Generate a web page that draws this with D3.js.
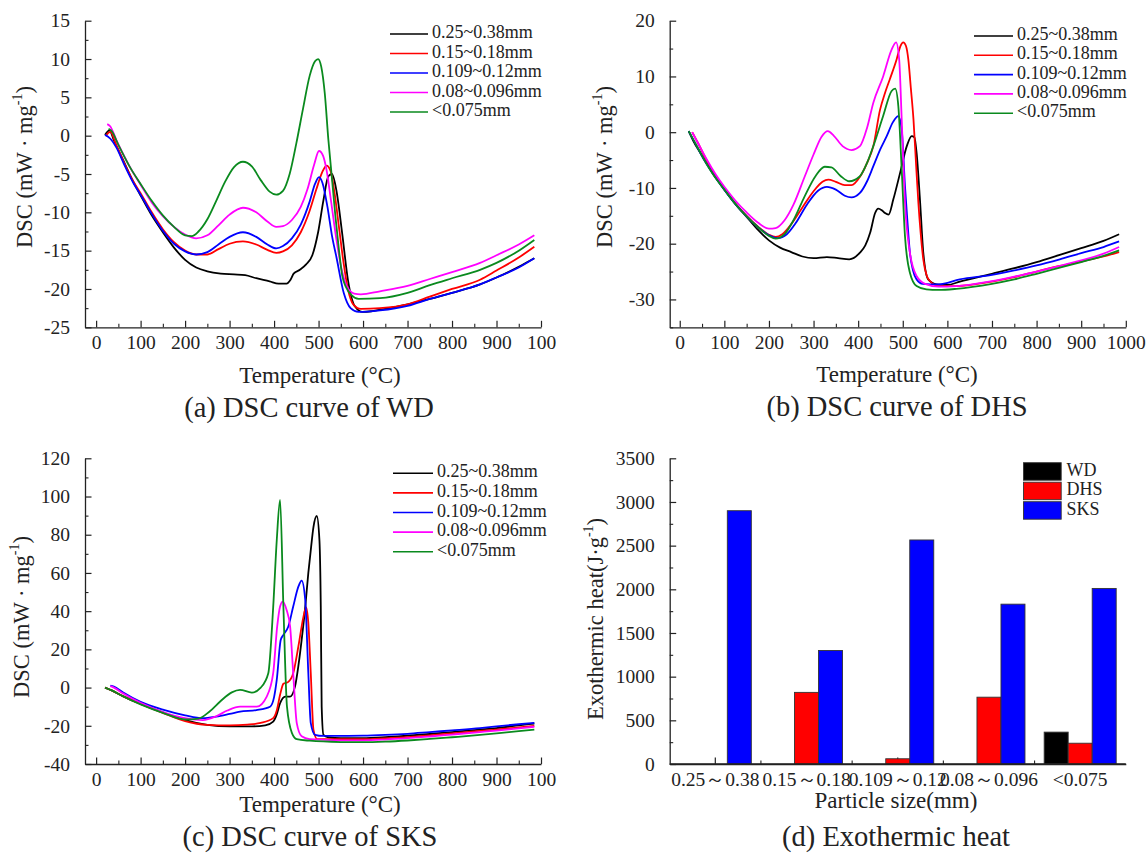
<!DOCTYPE html>
<html><head><meta charset="utf-8">
<script src="https://cdn.jsdelivr.net/npm/d3@7"></script>
<style>
body{margin:0;background:#fff}
svg{display:block}
text{font-family:"Liberation Serif","Times New Roman",serif;fill:#222}
</style>
</head><body><svg id="c" width="1146" height="853" font-family="Liberation Serif, Times New Roman, serif"></svg>
<script>
// ---------- DATA ----------
const seriesNames = ["0.25~0.38mm","0.15~0.18mm","0.109~0.12mm","0.08~0.096mm","<0.075mm"];
const xTicksT = [0,100,200,300,400,500,600,700,800,900,1000];
const xTickLabelsAC = ["0","100","200","300","400","500","600","700","800","900","100"];
const xTickLabelsB = ["0","100","200","300","400","500","600","700","800","900","1000"];
const yTicksA = [-25,-20,-15,-10,-5,0,5,10,15];
const yTicksB = [-30,-20,-10,0,10,20];
const yTicksC = [-40,-20,0,20,40,60,80,100,120];
const yTicksD = [0,500,1000,1500,2000,2500,3000,3500];

// (a) WD  [temperature °C, DSC mW/mg]
const wd1 = [[20,0.1],[30,0.7],[40,-0.6],[60,-3.1],[80,-5.6],[100,-7.8],[125,-10.4],[150,-12.6],[175,-14.6],[200,-16.2],[225,-17.2],[250,-17.7],[280,-18],[310,-18.1],[335,-18.2],[360,-18.6],[390,-19.0],[410,-19.3],[428,-19.3],[437,-18.8],[444,-18],[458,-17.5],[472,-16.8],[486,-15.6],[499,-12.6],[511,-8.4],[522,-5.3],[530,-5],[540,-7.1],[553,-12.7],[566,-18.8],[582,-22.3],[599,-23],[620,-22.9],[650,-22.6],[700,-22.0],[750,-21.3],[800,-20.5],[863,-19.4],[900,-18.5],[950,-17.1],[985,-16.0]];
const wd2 = [[22,0],[32,0.5],[45,-1.2],[65,-3.8],[85,-6.1],[100,-7.5],[125,-10],[150,-12.2],[175,-13.9],[200,-15],[225,-15.5],[250,-15.5],[275,-14.8],[300,-14.1],[330,-13.8],[360,-14.2],[385,-14.9],[405,-15.3],[420,-15.1],[440,-14.3],[460,-12.6],[480,-9.8],[495,-7],[508,-4.8],[518,-3.9],[527,-4.6],[536,-7.5],[546,-12],[556,-16.5],[566,-20],[578,-22],[595,-22.6],[638,-22.5],[700,-22],[750,-21],[800,-20],[863,-18.8],[900,-17.6],[950,-15.9],[985,-14.5]];
const wd3 = [[20,0.1],[32,-0.4],[45,-1.5],[65,-4],[85,-6.3],[100,-7.7],[125,-10.2],[150,-12.4],[175,-14.1],[200,-15.1],[225,-15.5],[250,-15.2],[275,-14.2],[300,-13.2],[330,-12.6],[360,-13.2],[385,-14.2],[405,-14.7],[420,-14.4],[440,-13.4],[460,-11.6],[480,-8.6],[492,-6.3],[501,-5.4],[509,-6.2],[520,-9.3],[530,-13],[540,-15.8],[557,-20.6],[572,-22.5],[590,-23],[638,-22.8],[700,-22.2],[750,-21.3],[800,-20.5],[863,-19.4],[900,-18.5],[950,-17.2],[985,-16.0]];
const wd4 = [[25,1.5],[32,1.2],[45,-0.5],[60,-2.3],[80,-4.5],[100,-6.4],[125,-8.7],[150,-10.5],[175,-11.9],[200,-12.9],[225,-13.4],[250,-13],[275,-11.7],[300,-10.3],[330,-9.4],[360,-10],[385,-11.2],[405,-11.9],[420,-11.8],[440,-11],[460,-9.3],[475,-7],[490,-3.8],[501,-2],[510,-2.6],[518,-4.5],[528,-8.5],[540,-13.5],[552,-17.5],[565,-19.8],[580,-20.6],[595,-20.7],[638,-20.3],[700,-19.6],[750,-18.7],[800,-17.8],[863,-16.6],[900,-15.6],[950,-14.2],[985,-13.0]];
const wd5 = [[28,0.9],[35,0.6],[50,-1.2],[75,-4],[100,-6.3],[125,-8.5],[150,-10.4],[175,-11.9],[200,-13],[215,-13.1],[230,-12.5],[250,-10.9],[270,-8.5],[290,-6],[310,-4.1],[330,-3.4],[350,-4],[370,-5.8],[390,-7.3],[405,-7.7],[420,-7.2],[435,-5],[450,-1],[465,3.5],[480,7.8],[492,9.7],[499,10],[506,9],[514,5.5],[522,-0.5],[530,-5.5],[538,-10.6],[546,-15],[553,-18.2],[562,-19.8],[574,-20.8],[590,-21.3],[638,-21.2],[700,-20.5],[750,-19.5],[800,-18.6],[863,-17.5],[900,-16.6],[950,-15],[985,-13.6]];

// (b) DHS
const dhs1 = [[20,0.2],[30,-1.5],[50,-4.2],[75,-7.5],[100,-10.3],[125,-12.9],[150,-15.2],[175,-17.5],[200,-19.4],[225,-20.7],[250,-21.5],[275,-22.3],[300,-22.6],[330,-22.4],[355,-22.6],[380,-22.8],[404,-21.6],[416,-20.3],[427,-18],[438,-14.5],[445,-13.7],[453,-14],[460,-14.5],[468,-14.8],[479,-12],[494,-7.3],[509,-2.5],[520,-0.7],[526,-0.9],[531,-3.7],[539,-12.7],[546,-21.6],[557,-26.4],[576,-27.3],[600,-27.4],[628,-26.8],[700,-25.4],[750,-24.4],[800,-23.3],[852,-22],[900,-20.8],[950,-19.5],[985,-18.3]];
const dhs2 = [[28,0],[40,-1.8],[60,-5],[80,-7.8],[100,-10.2],[125,-12.8],[150,-15],[175,-16.9],[200,-18.4],[215,-18.8],[230,-18.3],[250,-16.5],[275,-13.5],[300,-10.6],[320,-8.9],[333,-8.5],[350,-8.9],[370,-9.5],[385,-9.5],[404,-8],[420,-5.5],[434,-2.5],[449,4],[460,7],[471,9.5],[486,13],[495,15.5],[501,16.1],[507,15.5],[512.5,13],[518,8],[524,2.3],[530,-6],[535,-12.7],[540,-18],[546,-22.8],[554,-25.8],[561,-26.7],[580,-27.6],[620,-27.6],[700,-26.8],[750,-26],[800,-25],[852,-24],[900,-23.2],[950,-22.3],[985,-21.5]];
const dhs3 = [[20,0.2],[35,-2],[55,-5],[75,-7.5],[100,-10.3],[125,-12.9],[150,-15.1],[175,-17],[200,-18.5],[220,-19],[240,-18.3],[260,-16.3],[285,-13],[310,-10.5],[330,-9.8],[350,-10.3],[370,-11.4],[385,-11.7],[404,-10.9],[420,-8.8],[434,-6.1],[450,-3],[464,-0.7],[478,1.8],[490,2.9],[497.6,0.5],[505,-9.7],[510,-15.5],[516,-21.6],[523,-24.8],[531,-26.4],[545,-27.2],[580,-27.3],[628,-26.4],[700,-25.6],[750,-24.8],[800,-23.9],[852,-22.8],[900,-21.7],[950,-20.6],[985,-19.6]];
const dhs4 = [[28,0],[40,-1.8],[60,-4.8],[80,-7.5],[100,-9.8],[125,-12.3],[150,-14.4],[175,-16.2],[200,-17.3],[215,-17.2],[235,-15.8],[255,-13],[280,-8],[300,-4],[318,-0.8],[332,0.2],[345,-0.6],[365,-2.5],[385,-3.2],[404,-2.5],[420,0.8],[434,5.3],[456,10],[475,14.8],[485,16.1],[492,13],[497.6,2.3],[505,-12.7],[516,-21.6],[531,-25.8],[550,-27.2],[580,-27.7],[620,-27.6],[700,-26.7],[750,-25.9],[800,-25],[852,-24],[900,-23],[950,-21.8],[985,-20.6]];
const dhs5 = [[20,0.2],[35,-2],[55,-5],[75,-7.6],[100,-10.3],[125,-12.9],[150,-15.1],[175,-17],[200,-18.6],[215,-19.1],[235,-18.3],[255,-15.8],[280,-11.5],[305,-7.8],[325,-6.2],[340,-6.3],[360,-7.8],[380,-8.8],[404,-7.9],[420,-5.5],[434,-2.5],[456,2.9],[475,7.4],[483,7.8],[490,4.7],[497.6,-6.7],[505,-18.7],[516,-25.2],[531,-27.6],[553,-28.2],[580,-28.3],[620,-28.1],[700,-27.2],[750,-26.4],[800,-25.4],[852,-24.3],[900,-23.3],[950,-22.2],[985,-21.2]];

// (c) SKS
const sks1 = [[20,0],[35,-1.5],[60,-4.5],[100,-8.5],[150,-13],[200,-17],[250,-19.5],[300,-20.3],[350,-20.3],[380,-19.8],[398,-17.8],[406,-14],[413.5,-8.2],[425,-4.7],[436,-4.7],[447,0.5],[455,12],[462,25],[470,42],[477,60],[483,73],[488.5,84],[496,89.8],[502,77],[505,42],[507,-10],[511,-24.7],[522,-26],[550,-26.5],[600,-26.5],[650,-26],[700,-25.2],[750,-24.3],[800,-23.3],[863,-22],[900,-21.2],[950,-19.8],[985,-18.8]];
const sks2 = [[20,0],[35,-1.5],[60,-4.5],[100,-8.5],[150,-13.2],[200,-17.5],[250,-19.5],[300,-19.8],[340,-19.4],[370,-18.5],[398,-16],[406,-12],[413.5,-3.8],[421,2],[432,3],[443,7.5],[454.6,21.5],[466,37],[472,41.9],[477,33.7],[482.5,7.5],[488.5,-22],[497,-27],[550,-27],[600,-27],[650,-26.6],[700,-26],[750,-25],[800,-24],[863,-22.7],[900,-22],[950,-20.8],[985,-20]];
const sks3 = [[32,1],[40,0.5],[60,-2.5],[100,-7.5],[150,-11.5],[200,-14.5],[240,-16],[270,-15.2],[300,-13.8],[323.6,-12.6],[360,-11.8],[391,-10],[400,-5],[406,4],[415,25],[421,27.6],[432,32],[443,42.4],[454.6,52.8],[462,56],[470,46],[477,7.5],[482.5,-18.6],[492,-24.7],[510,-25.3],[550,-25.3],[600,-25.2],[650,-24.8],[700,-24.2],[750,-23.3],[800,-22.4],[863,-21.2],[900,-20.3],[950,-19.2],[985,-18.5]];
const sks4 = [[32,0.8],[40,0],[60,-3],[100,-8],[150,-12.8],[200,-16],[240,-17],[270,-15],[295,-12],[323.6,-10],[361,-10],[383.5,-4.7],[398,7.5],[407,32],[413.5,42.4],[419.5,45],[428,40.7],[436,32],[443,7.5],[451,-18.6],[462,-25.5],[480,-27],[550,-27.6],[600,-27.6],[650,-27.2],[700,-26.5],[750,-25.6],[800,-24.6],[863,-23.3],[900,-22.5],[950,-21.3],[985,-20.5]];
const sks5 = [[20,0],[35,-1.5],[60,-4.5],[100,-8.8],[150,-13.2],[200,-16.7],[230,-16.2],[255,-12.5],[280,-7],[305,-2.5],[323.6,-1.2],[350,-2.6],[370,0],[387,7.5],[398,42],[406,77],[413.5,98.2],[421,42],[429,-10],[440,-23.7],[451,-27],[480,-27.8],[550,-28.5],[600,-28.6],[650,-28.3],[700,-27.7],[750,-26.9],[800,-26],[863,-24.8],[900,-24],[950,-22.8],[985,-22]];

// (d) Exothermic heat (J/g)
const particleSizes = ["0.25～0.38","0.15～0.18","0.109～0.12","0.08～0.096","<0.075"];
const barSeries = ["WD","DHS","SKS"];
const heatWD  = [0, 0, 0, 0, 365];
const heatDHS = [0, 820, 60, 765, 238];
const heatSKS = [2900, 1300, 2565, 1830, 2010];

// ---------- STYLE ----------
const lineColors = ["#000000","#ff0000","#0000ff","#ff00ff","#0a8a1e"];
const barColors = ["#000000","#ff0000","#0000ff"];
const svg = d3.select("#c");
const TICK = 19.5, LEG = 18, ATITLE = 23, YTITLE = 22.5, PTITLE = 28.5, YPAD = 15;

function yTitle(g, x, y, main){
  const t = g.append("text").attr("transform",`translate(${x},${y}) rotate(-90)`)
    .attr("text-anchor","middle").attr("dominant-baseline","middle")
    .style("font-size",YTITLE+"px");
  t.append("tspan").text(main);
  t.append("tspan").attr("dy",-8).style("font-size","14px").text("-1");
  t.append("tspan").attr("dy",8).text(")");
}

function drawAxes(x, y, o){
  const gxMin = svg.append("g").attr("transform",`translate(0,${o.y0})`)
    .call(d3.axisBottom(x).tickValues(o.xMinor).tickSize(-3.5).tickFormat(""));
  const gyMin = svg.append("g").attr("transform",`translate(${o.x0},0)`)
    .call(d3.axisLeft(y).tickValues(o.yMinor).tickSize(-3.5).tickFormat(""));
  [gxMin,gyMin].forEach(g=>{g.select(".domain").remove(); g.selectAll("line").attr("stroke","#222").attr("stroke-width",1.1);});
  const gx = svg.append("g").attr("transform",`translate(0,${o.y0})`)
    .call(o.xAxis);
  const gy = svg.append("g").attr("transform",`translate(${o.x0},0)`)
    .call(d3.axisLeft(y).tickValues(o.yTicks).tickSize(-6.5).tickSizeOuter(0).tickPadding(YPAD)
      .tickFormat(d=>String(d)));
  [gx,gy].forEach(g=>{
    g.attr("font-family",null);
    g.select(".domain").attr("stroke","#222").attr("stroke-width",1.3);
    g.selectAll(".tick line").attr("stroke","#222").attr("stroke-width",1.2);
    g.selectAll("text").style("font-size",TICK+"px").attr("fill","#222");
  });
  return {gx, gy};
}

function linePanel(o){
  const x = d3.scaleLinear().domain(o.xDomain).range(o.xRange);
  const y = d3.scaleLinear().domain(o.yDomain).range(o.yRange);
  const xMinor = d3.range(50,1000,100);
  const yMinor = d3.range(o.yDomain[0], o.yDomain[1]+1e-9, o.yMinorStep).filter(v=>!o.yTicks.some(t=>Math.abs(t-v)<1e-9));
  const xAxis = d3.axisBottom(x).tickValues(xTicksT).tickSize(-6.5).tickSizeOuter(0).tickPadding(8)
    .tickFormat((d,i)=>o.xLabels[i]);
  drawAxes(x, y, {x0:o.xRange[0], y0:o.yRange[0], xMinor, yMinor, yTicks:o.yTicks, xAxis});
  const line = d3.line().x(d=>x(d[0])).y(d=>y(d[1])).curve(d3.curveMonotoneX);
  o.series.forEach((s,i)=>{
    svg.append("path").datum(s).attr("d",line).attr("fill","none")
      .attr("stroke",lineColors[i]).attr("stroke-width",1.8).attr("stroke-linejoin","round");
  });
  const lg = svg.append("g");
  seriesNames.forEach((n,i)=>{
    const yy = o.leg.y + i*o.leg.dy;
    lg.append("line").attr("x1",o.leg.x).attr("x2",o.leg.x+o.leg.len).attr("y1",yy).attr("y2",yy)
      .attr("stroke",lineColors[i]).attr("stroke-width",1.6);
    lg.append("text").attr("x",o.leg.x+o.leg.len+4).attr("y",yy).attr("dominant-baseline","middle")
      .style("font-size",LEG+"px").text(n);
  });
  const cx = (o.xRange[0]+o.xRange[1])/2;
  svg.append("text").attr("x",o.xTitleX).attr("y",o.xTitleY).attr("text-anchor","middle").attr("dominant-baseline","middle")
    .style("font-size",ATITLE+"px").text("Temperature (°C)");
  svg.append("text").attr("x",o.titleX).attr("y",o.titleY).attr("text-anchor","middle").attr("dominant-baseline","middle")
    .style("font-size",PTITLE+"px").text(o.title);
  yTitle(svg, o.yTitleX, o.yTitleY, "DSC (mW · mg");
}

linePanel({xDomain:[-25,1000], xRange:[85,541], yDomain:[-25,15], yRange:[327.3,20.7],
  yTicks:yTicksA, yMinorStep:2.5, xLabels:xTickLabelsAC,
  series:[wd1,wd2,wd3,wd4,wd5], leg:{x:390,y:34,dy:19.5,len:38},
  xTitleX:320, xTitleY:378, title:"(a) DSC curve of WD", titleX:309, titleY:410, yTitleX:27, yTitleY:167});

linePanel({xDomain:[-22.5,1000], xRange:[669.7,1125.8], yDomain:[-35,20], yRange:[327.3,20.7],
  yTicks:yTicksB, yMinorStep:5, xLabels:xTickLabelsB,
  series:[dhs1,dhs2,dhs3,dhs4,dhs5], leg:{x:974,y:36,dy:19.3,len:39},
  xTitleX:897, xTitleY:377, title:"(b) DSC curve of DHS", titleX:897, titleY:409, yTitleX:607, yTitleY:167});

linePanel({xDomain:[-25,1000], xRange:[85,541], yDomain:[-40,120], yRange:[764,458.3],
  yTicks:yTicksC, yMinorStep:10, xLabels:xTickLabelsAC,
  series:[sks1,sks2,sks3,sks4,sks5], leg:{x:393,y:473.3,dy:19.6,len:40},
  xTitleX:320, xTitleY:806.5, title:"(c) DSC curve of SKS", titleX:310, titleY:839, yTitleX:24, yTitleY:617});

// ---------- (d) bars ----------
(function(){
  const x0 = d3.scaleBand().domain(particleSizes).range([669.7,1125.8]).paddingInner(0).paddingOuter(0);
  const x1 = d3.scaleBand().domain(barSeries).range([0,x0.bandwidth()]).paddingInner(0).paddingOuter(0.4);
  const y = d3.scaleLinear().domain([0,3500]).range([764,458.3]);
  const xMinorPos = particleSizes.slice(1).map(p=>x0(p));
  svg.append("g").selectAll("line").data(xMinorPos).join("line")
    .attr("x1",d=>d).attr("x2",d=>d).attr("y1",764).attr("y2",760.5).attr("stroke","#222").attr("stroke-width",1.1);
  const yMinor = d3.range(250,3500,500);
  const xAxis = d3.axisBottom(x0).tickSize(-6.5).tickSizeOuter(0).tickPadding(8);
  drawAxes(x0, y, {x0:669.7, y0:764, xMinor:[], yMinor, yTicks:yTicksD, xAxis});
  const vals = [heatWD, heatDHS, heatSKS];
  const rows = particleSizes.map((p,i)=>({p, v:barSeries.map((s,j)=>({s, j, val:vals[j][i]}))}));
  const grp = svg.append("g").selectAll("g").data(rows).join("g").attr("transform",d=>`translate(${x0(d.p)},0)`);
  grp.selectAll("rect").data(d=>d.v.filter(e=>e.val>0)).join("rect")
    .attr("x",d=>x1(d.s)).attr("width",x1.bandwidth())
    .attr("y",d=>y(d.val)).attr("height",d=>y(0)-y(d.val))
    .attr("fill",d=>barColors[d.j]).attr("stroke","#333").attr("stroke-width",0.9);
  svg.append("line").attr("x1",669.7).attr("x2",1125.8).attr("y1",764).attr("y2",764).attr("stroke","#222").attr("stroke-width",1.3);
  barSeries.forEach((s,i)=>{
    const yy = 462.7 + i*19.5;
    svg.append("rect").attr("x",1023.5).attr("y",yy).attr("width",37.7).attr("height",17.5)
      .attr("fill",barColors[i]).attr("stroke","#333").attr("stroke-width",0.9);
    svg.append("text").attr("x",1066.5).attr("y",yy+9).attr("dominant-baseline","middle")
      .style("font-size",LEG+"px").text(s);
  });
  svg.append("text").attr("x",896).attr("y",803).attr("text-anchor","middle").attr("dominant-baseline","middle")
    .style("font-size",ATITLE+"px").text("Particle size(mm)");
  svg.append("text").attr("x",896).attr("y",839).attr("text-anchor","middle").attr("dominant-baseline","middle")
    .style("font-size",PTITLE+"px").text("(d) Exothermic heat");
  yTitle(svg, 598, 619, "Exothermic heat(J·g");
})();
</script>
</body></html>
